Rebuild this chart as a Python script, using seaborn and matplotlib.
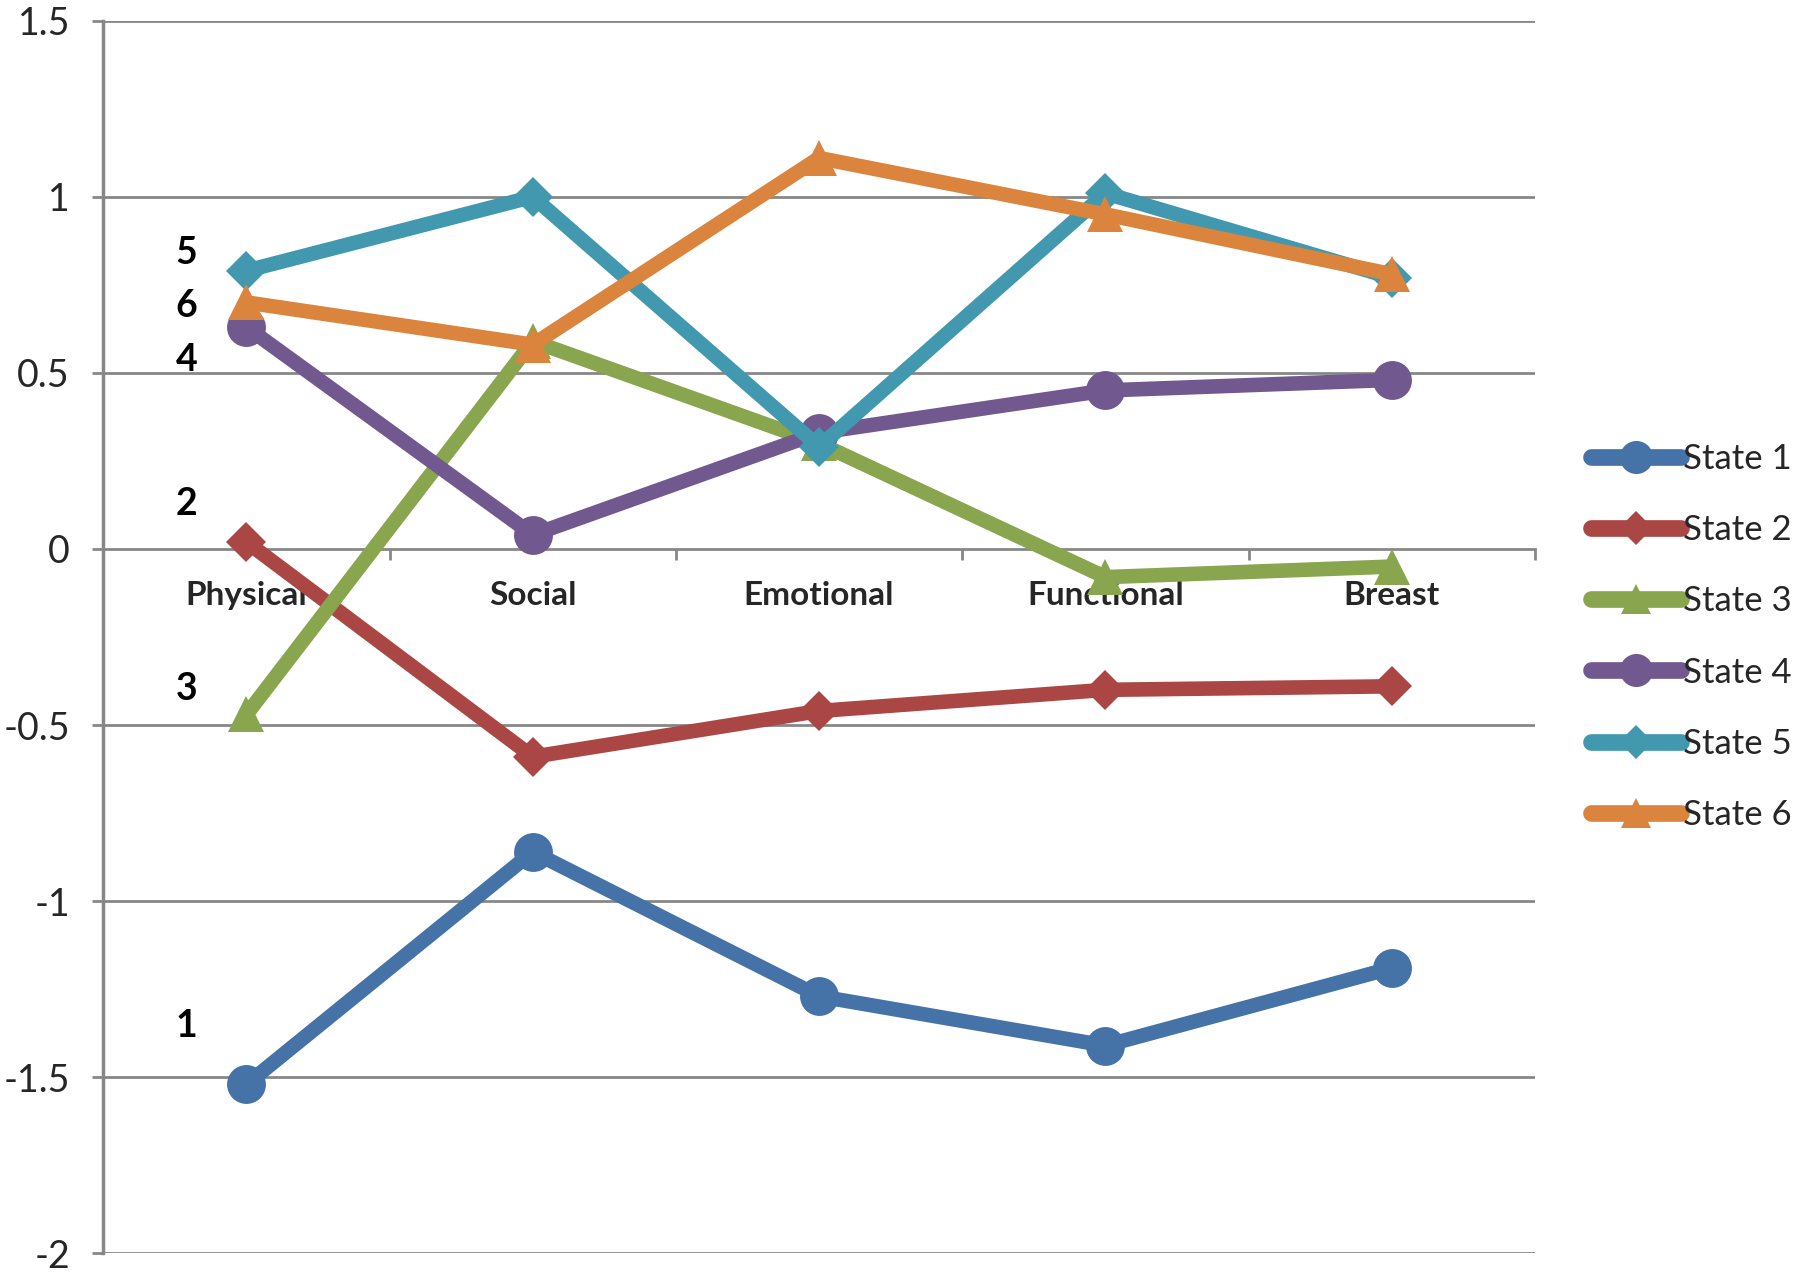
"""Line chart of state profiles across quality-of-life domains."""

import seaborn as sns
import matplotlib.pyplot as plt
import pandas as pd
from matplotlib.ticker import FixedLocator, FuncFormatter

# Data
domains = ["Physical", "Social", "Emotional", "Functional", "Breast"]
state_names = ["State 1", "State 2", "State 3", "State 4", "State 5", "State 6"]
state1 = [-1.52, -0.86, -1.27, -1.41, -1.19]
state2 = [0.02, -0.59, -0.46, -0.40, -0.39]
state3 = [-0.47, 0.59, 0.30, -0.08, -0.05]
state4 = [0.63, 0.04, 0.33, 0.45, 0.48]
state5 = [0.79, 1.00, 0.29, 1.01, 0.77]
state6 = [0.70, 0.58, 1.11, 0.95, 0.78]
state_labels = ["1", "2", "3", "4", "5", "6"]

colors = ["#4572A7", "#AA4643", "#89A54E", "#71588F", "#4198AF", "#DB843D"]
markers = ["o", "D", "^", "o", "D", "^"]
marker_sizes = [28, 20, 26, 28, 20, 26]
# where the bold state numbers sit, left of the first category
label_pos = [(-0.21, -1.355), (-0.21, 0.127), (-0.21, -0.397),
             (-0.21, 0.537), (-0.21, 0.84), (-0.21, 0.69)]

sns.set_theme(style="white")
plt.rcParams['font.family'] = ['Lato', 'DejaVu Sans']
plt.rcParams['axes.unicode_minus'] = False

series = [state1, state2, state3, state4, state5, state6]
df = pd.DataFrame({
    "domain": domains * len(series),
    "value": [v for s in series for v in s],
    "state": [n for n in state_names for _ in domains],
})

fig = plt.figure(figsize=(18, 12.74), dpi=100)
ax = fig.add_axes([0.0574, 0.0162, 0.7953, 0.9676])

grid_color = "#878787"
for y in [-2, -1.5, -1, -0.5, 0.5, 1, 1.5]:
    ax.axhline(y, color=grid_color, lw=2, zorder=0)

for i, name in enumerate(state_names):
    sns.lineplot(
        data=df[df["state"] == name],
        x="domain",
        y="value",
        color=colors[i],
        marker=markers[i],
        markersize=marker_sizes[i],
        markeredgecolor=colors[i],
        markeredgewidth=0,
        linewidth=10.5,
        label=name,
        ax=ax,
        zorder=3 + i,
        sort=False,
    )

for txt, (x, y) in zip(state_labels, label_pos):
    ax.text(x, y, txt, fontsize=27, fontweight="bold", ha="center",
            va="center", color="black")

ax.set_xlim(-0.5, 4.5)
ax.set_ylim(-2, 1.5)
ax.set_xlabel("")
ax.set_ylabel("")

for side in ["top", "right"]:
    ax.spines[side].set_visible(False)
ax.spines["left"].set_color(grid_color)
ax.spines["left"].set_linewidth(2.5)
ax.spines["bottom"].set_position(("data", 0))
ax.spines["bottom"].set_color(grid_color)
ax.spines["bottom"].set_linewidth(2)

ax.set_yticks([-2, -1.5, -1, -0.5, 0, 0.5, 1, 1.5])
ax.yaxis.set_major_formatter(FuncFormatter(lambda v, p: f"{v:g}"))
ax.tick_params(axis="y", which="major", direction="out", length=8, width=2,
               color=grid_color, labelsize=27, pad=16, left=True)

ax.set_xticks(range(len(domains)))
ax.set_xticklabels(domains, fontsize=24, fontweight="bold")
ax.xaxis.set_minor_locator(FixedLocator([0.5, 1.5, 2.5, 3.5, 4.5]))
ax.tick_params(axis="x", which="major", length=0, pad=23, bottom=True)
ax.tick_params(axis="x", which="minor", direction="out", length=8, width=2,
               color=grid_color, bottom=True)

leg = ax.legend(loc="center left", bbox_to_anchor=(0.874, 0.5),
                bbox_transform=fig.transFigure, frameon=False, fontsize=25,
                handlelength=2.6, handletextpad=0.05, labelspacing=1.13,
                borderpad=0)
for h in leg.legend_handles:
    h.set_markersize(h.get_markersize() * 0.85)
    h.set_linewidth(12)
    h.set_solid_capstyle("round")

fig.savefig("out.png", dpi=100)
